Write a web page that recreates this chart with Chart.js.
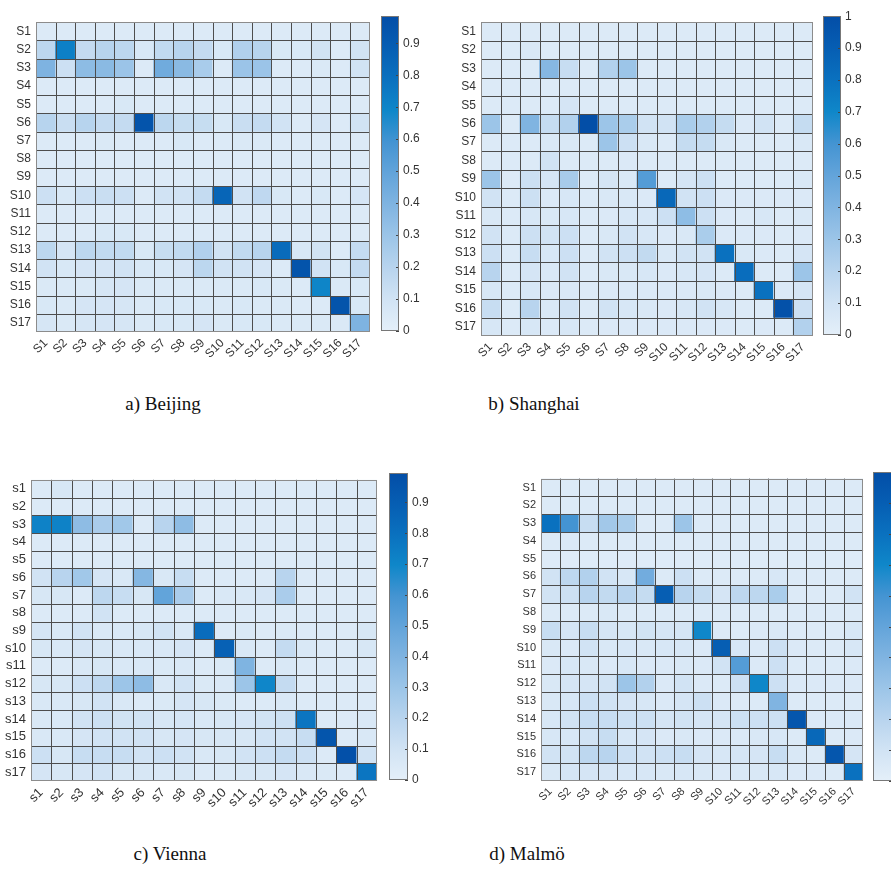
<!DOCTYPE html>
<html><head><meta charset="utf-8">
<script src="https://cdn.jsdelivr.net/npm/chart.js@4.4.1/dist/chart.umd.min.js"></script>
<style>
html,body{margin:0;padding:0;background:#fff;width:891px;height:870px;overflow:hidden;position:relative;}
canvas{position:absolute;}
.title{position:absolute;font-family:'Liberation Serif','Times New Roman',serif;font-size:19px;line-height:1;color:#111;transform:translateX(-50%);white-space:nowrap;}
</style></head><body>
<div class="title" style="left:163px;top:394px">a) Beijing</div>
<div class="title" style="left:534px;top:394px">b) Shanghai</div>
<div class="title" style="left:170px;top:844px">c) Vienna</div>
<div class="title" style="left:527px;top:844px">d) Malmö</div>
<script>
// ---------- data ----------
const upperLabels = ['S1','S2','S3','S4','S5','S6','S7','S8','S9','S10','S11','S12','S13','S14','S15','S16','S17'];
const lowerLabels = ['s1','s2','s3','s4','s5','s6','s7','s8','s9','s10','s11','s12','s13','s14','s15','s16','s17'];

const beijing = [
 [0.04,0.04,0.04,0.04,0.04,0.04,0.04,0.04,0.04,0.04,0.04,0.04,0.04,0.04,0.04,0.04,0.04],
 [0.18,0.72,0.15,0.20,0.18,0.06,0.16,0.20,0.15,0.06,0.22,0.20,0.06,0.06,0.10,0.04,0.10],
 [0.40,0.12,0.35,0.36,0.30,0.04,0.45,0.36,0.25,0.04,0.30,0.30,0.04,0.04,0.05,0.04,0.10],
 [0.04,0.04,0.04,0.04,0.04,0.04,0.04,0.04,0.04,0.04,0.04,0.04,0.04,0.04,0.04,0.04,0.04],
 [0.04,0.04,0.04,0.04,0.06,0.04,0.04,0.04,0.04,0.04,0.04,0.04,0.04,0.04,0.04,0.04,0.04],
 [0.20,0.13,0.20,0.15,0.15,0.95,0.18,0.14,0.14,0.06,0.13,0.15,0.10,0.04,0.08,0.04,0.10],
 [0.04,0.04,0.04,0.05,0.04,0.04,0.04,0.06,0.04,0.04,0.05,0.05,0.04,0.04,0.04,0.04,0.04],
 [0.04,0.04,0.04,0.04,0.04,0.04,0.04,0.04,0.04,0.04,0.04,0.04,0.04,0.04,0.04,0.04,0.04],
 [0.04,0.04,0.04,0.04,0.04,0.04,0.04,0.04,0.04,0.04,0.04,0.04,0.04,0.04,0.04,0.04,0.04],
 [0.12,0.06,0.12,0.13,0.12,0.04,0.10,0.10,0.15,0.85,0.10,0.17,0.06,0.04,0.06,0.04,0.08],
 [0.04,0.04,0.04,0.04,0.04,0.04,0.04,0.04,0.04,0.04,0.04,0.04,0.04,0.04,0.04,0.04,0.04],
 [0.04,0.04,0.04,0.06,0.06,0.04,0.04,0.04,0.04,0.04,0.04,0.04,0.04,0.04,0.04,0.04,0.04],
 [0.18,0.08,0.18,0.16,0.16,0.06,0.14,0.16,0.22,0.10,0.16,0.20,0.82,0.06,0.10,0.04,0.15],
 [0.10,0.06,0.08,0.08,0.10,0.06,0.06,0.08,0.18,0.10,0.10,0.08,0.04,0.95,0.10,0.06,0.15],
 [0.05,0.05,0.05,0.07,0.08,0.05,0.05,0.05,0.05,0.05,0.05,0.06,0.05,0.04,0.70,0.05,0.06],
 [0.06,0.05,0.08,0.08,0.07,0.05,0.06,0.06,0.06,0.05,0.06,0.05,0.05,0.04,0.04,0.95,0.06],
 [0.07,0.05,0.07,0.08,0.07,0.05,0.06,0.06,0.08,0.05,0.06,0.06,0.05,0.05,0.05,0.05,0.40]
];

const shanghai = [
 [0.04,0.04,0.04,0.04,0.04,0.04,0.04,0.04,0.04,0.04,0.04,0.04,0.04,0.04,0.04,0.04,0.04],
 [0.04,0.04,0.06,0.04,0.04,0.04,0.04,0.04,0.04,0.04,0.04,0.04,0.04,0.04,0.04,0.04,0.04],
 [0.04,0.04,0.04,0.38,0.14,0.04,0.22,0.30,0.04,0.04,0.04,0.04,0.04,0.04,0.04,0.04,0.04],
 [0.04,0.04,0.04,0.04,0.04,0.04,0.04,0.04,0.04,0.04,0.04,0.04,0.04,0.04,0.04,0.04,0.04],
 [0.04,0.04,0.04,0.04,0.08,0.04,0.04,0.04,0.04,0.04,0.04,0.04,0.04,0.04,0.04,0.04,0.04],
 [0.30,0.04,0.40,0.15,0.22,1.00,0.30,0.25,0.10,0.10,0.25,0.22,0.15,0.05,0.10,0.04,0.15],
 [0.04,0.04,0.04,0.06,0.06,0.04,0.30,0.12,0.06,0.04,0.15,0.15,0.06,0.04,0.04,0.04,0.06],
 [0.04,0.04,0.04,0.10,0.04,0.04,0.04,0.05,0.04,0.04,0.04,0.04,0.04,0.04,0.04,0.04,0.04],
 [0.30,0.04,0.12,0.08,0.26,0.04,0.08,0.06,0.55,0.04,0.08,0.12,0.04,0.04,0.04,0.04,0.06],
 [0.10,0.04,0.12,0.05,0.07,0.04,0.06,0.06,0.05,0.85,0.10,0.12,0.05,0.05,0.05,0.05,0.05],
 [0.06,0.04,0.07,0.06,0.07,0.04,0.05,0.07,0.07,0.12,0.35,0.12,0.05,0.04,0.07,0.04,0.06],
 [0.10,0.04,0.12,0.10,0.12,0.04,0.06,0.10,0.07,0.05,0.06,0.25,0.05,0.05,0.05,0.04,0.05],
 [0.12,0.04,0.14,0.07,0.12,0.04,0.10,0.12,0.16,0.06,0.10,0.10,0.80,0.06,0.05,0.04,0.08],
 [0.20,0.04,0.08,0.06,0.10,0.04,0.06,0.06,0.07,0.05,0.07,0.08,0.04,0.82,0.04,0.04,0.30],
 [0.07,0.04,0.07,0.05,0.06,0.04,0.05,0.05,0.05,0.05,0.05,0.06,0.05,0.04,0.80,0.05,0.08],
 [0.14,0.04,0.20,0.06,0.10,0.04,0.10,0.07,0.06,0.05,0.07,0.10,0.07,0.04,0.04,0.98,0.12],
 [0.07,0.04,0.07,0.05,0.07,0.04,0.05,0.05,0.05,0.05,0.05,0.05,0.05,0.04,0.05,0.04,0.22]
];

const vienna = [
 [0.04,0.07,0.04,0.04,0.04,0.04,0.04,0.04,0.04,0.04,0.04,0.04,0.04,0.04,0.04,0.04,0.04],
 [0.04,0.04,0.04,0.04,0.04,0.04,0.04,0.04,0.04,0.04,0.04,0.04,0.04,0.04,0.04,0.04,0.04],
 [0.72,0.72,0.35,0.25,0.28,0.04,0.20,0.35,0.04,0.04,0.04,0.04,0.04,0.04,0.04,0.04,0.04],
 [0.04,0.04,0.04,0.04,0.04,0.04,0.04,0.04,0.04,0.04,0.04,0.04,0.04,0.04,0.04,0.04,0.04],
 [0.04,0.04,0.04,0.04,0.04,0.04,0.04,0.04,0.04,0.04,0.04,0.04,0.04,0.04,0.04,0.04,0.04],
 [0.10,0.20,0.28,0.08,0.06,0.38,0.06,0.14,0.04,0.04,0.04,0.04,0.20,0.04,0.04,0.04,0.04],
 [0.07,0.07,0.04,0.18,0.14,0.07,0.50,0.25,0.04,0.06,0.06,0.08,0.25,0.04,0.04,0.04,0.04],
 [0.04,0.04,0.04,0.10,0.04,0.04,0.04,0.04,0.04,0.04,0.04,0.04,0.04,0.04,0.04,0.04,0.04],
 [0.08,0.06,0.10,0.06,0.06,0.07,0.10,0.06,0.82,0.04,0.06,0.04,0.05,0.04,0.04,0.04,0.07],
 [0.07,0.06,0.08,0.07,0.06,0.06,0.06,0.08,0.04,0.88,0.06,0.04,0.15,0.06,0.04,0.04,0.07],
 [0.04,0.04,0.06,0.07,0.06,0.06,0.05,0.06,0.04,0.05,0.40,0.04,0.06,0.04,0.04,0.04,0.04],
 [0.07,0.07,0.12,0.18,0.30,0.35,0.06,0.10,0.05,0.06,0.30,0.70,0.15,0.04,0.04,0.04,0.04],
 [0.06,0.06,0.07,0.10,0.06,0.04,0.05,0.08,0.07,0.05,0.04,0.04,0.06,0.04,0.04,0.04,0.04],
 [0.06,0.06,0.10,0.12,0.10,0.10,0.07,0.08,0.06,0.07,0.08,0.10,0.12,0.78,0.04,0.04,0.06],
 [0.06,0.06,0.08,0.10,0.10,0.10,0.07,0.08,0.07,0.07,0.07,0.10,0.10,0.14,0.95,0.04,0.06],
 [0.12,0.07,0.14,0.14,0.14,0.10,0.12,0.10,0.06,0.07,0.10,0.12,0.15,0.12,0.04,0.98,0.10],
 [0.08,0.07,0.08,0.10,0.07,0.07,0.06,0.07,0.04,0.05,0.07,0.07,0.08,0.06,0.05,0.04,0.78]
];

const malmo = [
 [0.04,0.04,0.04,0.04,0.04,0.04,0.04,0.04,0.04,0.04,0.04,0.04,0.04,0.04,0.04,0.04,0.04],
 [0.04,0.04,0.04,0.04,0.04,0.04,0.04,0.04,0.04,0.04,0.04,0.04,0.04,0.04,0.04,0.04,0.04],
 [0.80,0.60,0.14,0.28,0.25,0.04,0.04,0.30,0.04,0.04,0.04,0.04,0.04,0.04,0.04,0.04,0.04],
 [0.04,0.05,0.04,0.04,0.04,0.04,0.04,0.04,0.04,0.04,0.04,0.04,0.04,0.04,0.04,0.04,0.04],
 [0.03,0.03,0.03,0.03,0.03,0.03,0.03,0.03,0.03,0.03,0.03,0.03,0.03,0.03,0.03,0.03,0.03],
 [0.10,0.18,0.22,0.10,0.07,0.45,0.04,0.12,0.04,0.04,0.04,0.04,0.07,0.04,0.04,0.04,0.04],
 [0.10,0.12,0.20,0.16,0.20,0.15,0.90,0.20,0.15,0.08,0.18,0.18,0.25,0.04,0.04,0.04,0.10],
 [0.04,0.04,0.04,0.06,0.04,0.04,0.04,0.04,0.04,0.04,0.04,0.04,0.04,0.04,0.04,0.04,0.04],
 [0.14,0.08,0.14,0.08,0.07,0.10,0.08,0.08,0.70,0.04,0.04,0.05,0.06,0.04,0.04,0.04,0.07],
 [0.06,0.05,0.10,0.06,0.07,0.06,0.07,0.07,0.05,0.90,0.07,0.05,0.12,0.05,0.04,0.04,0.07],
 [0.05,0.07,0.06,0.05,0.07,0.05,0.05,0.06,0.05,0.10,0.55,0.05,0.12,0.04,0.04,0.04,0.05],
 [0.06,0.08,0.08,0.10,0.30,0.22,0.05,0.10,0.05,0.04,0.12,0.70,0.12,0.05,0.05,0.05,0.05],
 [0.06,0.07,0.12,0.10,0.08,0.07,0.05,0.08,0.12,0.05,0.04,0.04,0.40,0.04,0.04,0.04,0.04],
 [0.07,0.10,0.14,0.14,0.12,0.12,0.08,0.10,0.08,0.08,0.12,0.12,0.12,0.95,0.05,0.05,0.05],
 [0.07,0.07,0.10,0.14,0.07,0.08,0.05,0.06,0.05,0.05,0.05,0.06,0.07,0.04,0.85,0.04,0.05],
 [0.10,0.10,0.18,0.20,0.12,0.10,0.12,0.14,0.08,0.07,0.08,0.08,0.14,0.06,0.04,0.95,0.08],
 [0.06,0.08,0.08,0.08,0.07,0.07,0.06,0.07,0.06,0.05,0.06,0.06,0.07,0.05,0.05,0.04,0.80]
];

const ticksTo09 = [0,0.1,0.2,0.3,0.4,0.5,0.6,0.7,0.8,0.9];
const ticksTo1 = [0,0.1,0.2,0.3,0.4,0.5,0.6,0.7,0.8,0.9,1];
const malmoTicks = [0,0.1,0.2,0.3,0.4,0.5,0.6,0.7,0.8,0.9];

// ---------- style ----------
const CMAP = ['#e4eff9','#d1e3f4','#b8d4ee','#9cc5e8','#80b4e1','#63a4da','#4494d2','#0f87c9','#0a71bf','#065eb3','#034ea7'];
function hexToRgb(h){return [parseInt(h.substr(1,2),16),parseInt(h.substr(3,2),16),parseInt(h.substr(5,2),16)];}
function cmapColor(t){
  t=Math.max(0,Math.min(1,t));
  const n=CMAP.length-1, f=t*n, i=Math.min(Math.floor(f),n-1), r=f-i;
  const a=hexToRgb(CMAP[i]), b=hexToRgb(CMAP[i+1]);
  return 'rgb('+a.map((v,k)=>Math.round(v+(b[k]-v)*r)).join(',')+')';
}

Chart.defaults.font.family = "'Liberation Sans', Arial, sans-serif";
Chart.defaults.color = '#333';

const gridPlugin = {
  id:'cellGrid',
  afterDatasetsDraw(chart){
    const {ctx, chartArea:a} = chart, x = chart.scales.x, y = chart.scales.y;
    const n = chart.data.labels.length;
    ctx.save();
    ctx.strokeStyle = '#4d4d4d'; ctx.lineWidth = 1; ctx.beginPath();
    for(let i=1;i<n;i++){const px=Math.round(x.getPixelForValue(i-0.5))+0.5; ctx.moveTo(px,a.top); ctx.lineTo(px,a.bottom);}
    for(let i=1;i<n;i++){const py=Math.round(y.getPixelForValue(i))+0.5; ctx.moveTo(a.left,py); ctx.lineTo(a.right,py);}
    ctx.stroke();
    ctx.strokeStyle = '#8c8c8c';
    ctx.strokeRect(Math.round(a.left)+0.5, Math.round(a.top)+0.5, Math.round(a.right-a.left)-1, Math.round(a.bottom-a.top)-1);
    ctx.restore();
  }
};

const cbPlugin = {
  id:'cbFrame',
  afterDatasetsDraw(chart){
    const {ctx, chartArea:a} = chart, y = chart.scales.y;
    ctx.save();
    ctx.strokeStyle = '#444'; ctx.lineWidth = 1; ctx.beginPath();
    y.ticks.forEach(t=>{const py=Math.round(y.getPixelForValue(t.value))+0.5; ctx.moveTo(a.right-3,py); ctx.lineTo(a.right,py);});
    ctx.stroke();
    ctx.strokeStyle = '#777';
    ctx.strokeRect(Math.round(a.left)+0.5, Math.round(a.top)+0.5, Math.round(a.right-a.left)-1, Math.round(a.bottom-a.top)-1);
    ctx.restore();
  }
};

function makeMatrix(p){
  const yW=40, xH=48, padT=5, padR=2, m=p.m;
  const c=document.createElement('canvas');
  c.width=(m.right-m.left)+yW+padR; c.height=(m.bottom-m.top)+padT+xH;
  c.style.left=(m.left-yW)+'px'; c.style.top=(m.top-padT)+'px';
  document.body.appendChild(c);
  const labels=p.labels;
  const datasets=p.values.map((row,r)=>({
    data: row.map(()=>[r,r+1]),
    backgroundColor: row.map(v=>cmapColor(v/p.cmax)),
    borderWidth:0, grouped:false, barPercentage:1, categoryPercentage:1
  }));
  new Chart(c,{type:'bar',data:{labels:labels,datasets:datasets},options:{
    responsive:false, animation:false, events:[],
    layout:{padding:{top:padT,right:padR,left:0,bottom:0}},
    plugins:{legend:{display:false},tooltip:{enabled:false}},
    scales:{
      x:{type:'category',offset:true,grid:{display:false,drawTicks:false},border:{display:false},
         ticks:{autoSkip:false,maxRotation:45,minRotation:45,padding:4,color:'#333',font:{size:p.font}},
         afterFit:s=>{s.height=xH;}},
      y:{type:'linear',min:0,max:labels.length,reverse:true,grid:{display:false,drawTicks:false},border:{display:false},
         afterBuildTicks:s=>{s.ticks=labels.map((_,i)=>({value:i+0.5}));},
         ticks:{padding:5,color:'#333',font:{size:p.font},callback:v=>labels[Math.floor(v)]},
         afterFit:s=>{s.width=yW;}}
    }
  },plugins:[gridPlugin]});
}

function makeColorbar(p){
  const axW=34, pad=10, m=p.m, cb=p.cb;
  const c=document.createElement('canvas');
  c.width=(cb.right-cb.left)+axW; c.height=(m.bottom-m.top)+2*pad;
  c.style.left=cb.left+'px'; c.style.top=(m.top-pad)+'px';
  document.body.appendChild(c);
  const cmax=p.cmax;
  new Chart(c,{type:'bar',data:{labels:[''],datasets:[{
    data:[[0,cmax]], borderWidth:0, barPercentage:1, categoryPercentage:1,
    backgroundColor:(ctx)=>{
      const ch=ctx.chart, ys=ch.scales.y;
      if(!ys || !ch.chartArea) return CMAP[0];
      const g=ch.ctx.createLinearGradient(0,ys.getPixelForValue(0),0,ys.getPixelForValue(cmax));
      CMAP.forEach((col,i)=>g.addColorStop(i/(CMAP.length-1),col));
      return g;
    }
  }]},options:{
    responsive:false, animation:false, events:[],
    layout:{padding:{top:pad,bottom:pad,left:0,right:0}},
    plugins:{legend:{display:false},tooltip:{enabled:false}},
    scales:{
      x:{display:false,offset:true},
      y:{position:'right',min:0,max:cmax,grid:{display:false,drawTicks:false},border:{display:false},
         afterBuildTicks:s=>{s.ticks=p.ticks.map(v=>({value:v}));},
         ticks:{display:p.showTicks,padding:4,color:'#333',font:{size:12},callback:v=>String(Math.round(v*10)/10)},
         afterFit:s=>{s.width=axW;}}
    }
  },plugins:[cbPlugin]});
}

const panels=[
  {values:beijing, labels:upperLabels, cmax:0.985, ticks:ticksTo09, showTicks:true, font:12,
   m:{left:36,top:15,right:372,bottom:332}, cb:{left:381,right:399}},
  {values:shanghai, labels:upperLabels, cmax:1, ticks:ticksTo1, showTicks:true, font:12,
   m:{left:481,top:15,right:815,bottom:336}, cb:{left:823,right:841}},
  {values:vienna, labels:lowerLabels, cmax:0.995, ticks:ticksTo09, showTicks:true, font:13,
   m:{left:31,top:472,right:380,bottom:781}, cb:{left:389,right:408}},
  {values:malmo, labels:upperLabels, cmax:1, ticks:malmoTicks, showTicks:false, font:11,
   m:{left:541,top:472,right:865,bottom:781}, cb:{left:873,right:892}}
];
panels.forEach(p=>{makeMatrix(p); makeColorbar(p);});
</script>
</body></html>
